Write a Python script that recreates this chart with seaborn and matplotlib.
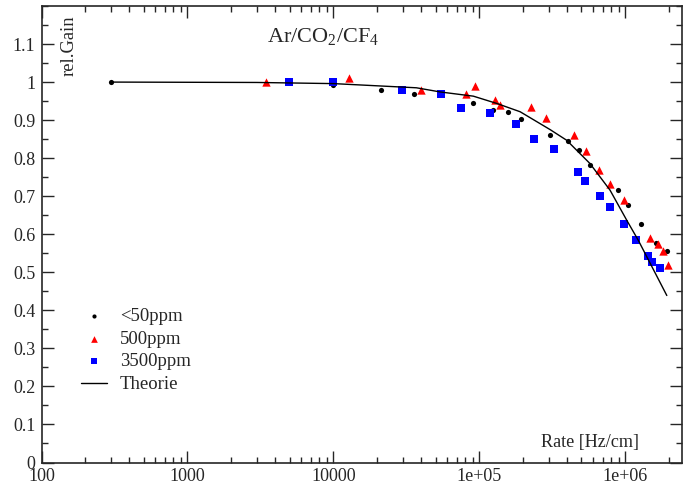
import numpy as np
import pandas as pd
import matplotlib
matplotlib.use("Agg")
import matplotlib.pyplot as plt
import seaborn as sns
from matplotlib.ticker import FixedLocator, MultipleLocator, FuncFormatter, LogLocator, NullFormatter

# <50ppm
rate_low = [300, 10000, 21000, 35600, 90300, 123000, 158000, 193000, 306000,
            405000, 483000, 569000, 889000, 1037000, 1280000, 1621000, 1918000]
gain_low = [1.000, 0.992, 0.979, 0.968, 0.945, 0.926, 0.922, 0.904, 0.861,
            0.846, 0.821, 0.783, 0.716, 0.676, 0.626, 0.577, 0.556]

# 500ppm
rate_mid = [3470, 12860, 39600, 80900, 93700, 128500, 138400, 226800, 285900,
            444600, 540000, 662000, 780000, 977000, 1473000, 1680000, 1819000, 1966000]
gain_mid = [1.000, 1.010, 0.979, 0.968, 0.989, 0.953, 0.939, 0.935, 0.906,
            0.861, 0.819, 0.770, 0.731, 0.691, 0.590, 0.574, 0.555, 0.518]

# 3500ppm
rate_high = [4970, 10000, 29650, 54600, 74500, 118300, 178200, 237900, 324500,
             473500, 531000, 669000, 788000, 984000, 1183000, 1422000, 1528000, 1725000]
gain_high = [1.000, 1.000, 0.979, 0.968, 0.932, 0.919, 0.890, 0.850, 0.824,
             0.764, 0.739, 0.700, 0.672, 0.627, 0.584, 0.542, 0.527, 0.511]

# Theorie curve
rate_th = [300, 3000, 10000, 37000, 54000, 90800, 131000, 190000, 305000,
           396000, 571000, 784000, 1020000, 1225000, 1920000]
gain_th = [1.000, 0.999, 0.996, 0.985, 0.974, 0.963, 0.944, 0.922, 0.875,
           0.847, 0.786, 0.716, 0.637, 0.584, 0.439]

sns.set_style("ticks")
plt.rcParams['font.family'] = ['Liberation Serif', 'DejaVu Serif']
plt.rcParams['mathtext.fontset'] = 'custom'
plt.rcParams['mathtext.rm'] = 'Liberation Serif'

fig = plt.figure(figsize=(6.83, 4.88), dpi=100)
ax = fig.add_axes([41.5 / 683, (488 - 462.5) / 488, (682 - 41.5) / 683, (462.5 - 6) / 488])

df_th = pd.DataFrame({'rate': rate_th, 'gain': gain_th})
sns.lineplot(data=df_th, x='rate', y='gain', ax=ax, color='black', linewidth=1.0,
             label='Theorie', sort=False)
sns.scatterplot(x=rate_low, y=gain_low, ax=ax, color='black', marker='o', s=14,
                linewidth=0, label='<50ppm')
sns.scatterplot(x=rate_mid, y=gain_mid, ax=ax, color='red', marker='^', s=36,
                linewidth=0, label='500ppm')
sns.scatterplot(x=rate_high, y=gain_high, ax=ax, color='blue', marker='s', s=26,
                linewidth=0, label='3500ppm')

ax.set_xscale('log')
ax.set_xlim(100, 2.44e6)
ax.set_ylim(0, 1.2)

ax.xaxis.set_major_locator(LogLocator(base=10, numticks=10))
ax.xaxis.set_minor_locator(LogLocator(base=10, subs=np.arange(2, 10), numticks=50))
ax.xaxis.set_minor_formatter(NullFormatter())

def xfmt(v, pos):
    if v < 1e5:
        return '%d' % round(v)
    return '1e+%02d' % round(np.log10(v))

ax.xaxis.set_major_formatter(FuncFormatter(xfmt))
ax.yaxis.set_major_locator(FixedLocator(np.round(np.arange(0, 1.15, 0.1), 2)))
ax.yaxis.set_minor_locator(MultipleLocator(0.05))
ax.yaxis.set_major_formatter(FuncFormatter(lambda v, p: '%g' % round(v, 2)))

ax.tick_params(which='both', direction='in', top=True, right=True, labelsize=13, width=1.0)
ax.tick_params(which='major', length=8.9, pad=4.3)
ax.tick_params(which='minor', length=4.3)
for sp in ax.spines.values():
    sp.set_linewidth(1.2)

ax.set_xlabel('')
ax.set_ylabel('')
ax.text(0.043, 0.98, 'rel.Gain', transform=ax.transAxes, rotation=90,
        ha='center', va='top', fontsize=13.3)
ax.text(0.933, 0.033, 'Rate [Hz/cm]', transform=ax.transAxes,
        ha='right', va='baseline', fontsize=13.1)
ax.text(0.352, 0.9205, r'Ar/CO$_2$/CF$_4$', transform=ax.transAxes,
        ha='left', va='baseline', fontsize=16)

h, l = ax.get_legend_handles_labels()
order = [l.index(n) for n in ['<50ppm', '500ppm', '3500ppm', 'Theorie']]
leg = ax.legend([h[i] for i in order], [l[i] for i in order], loc='upper left',
                bbox_to_anchor=(0.061, 0.339), frameon=False, fontsize=13.5,
                handlelength=1.39, handletextpad=0.71, labelspacing=0.3,
                borderpad=0, borderaxespad=0, markerscale=0.8)

fig.savefig('out.png', dpi=100)
